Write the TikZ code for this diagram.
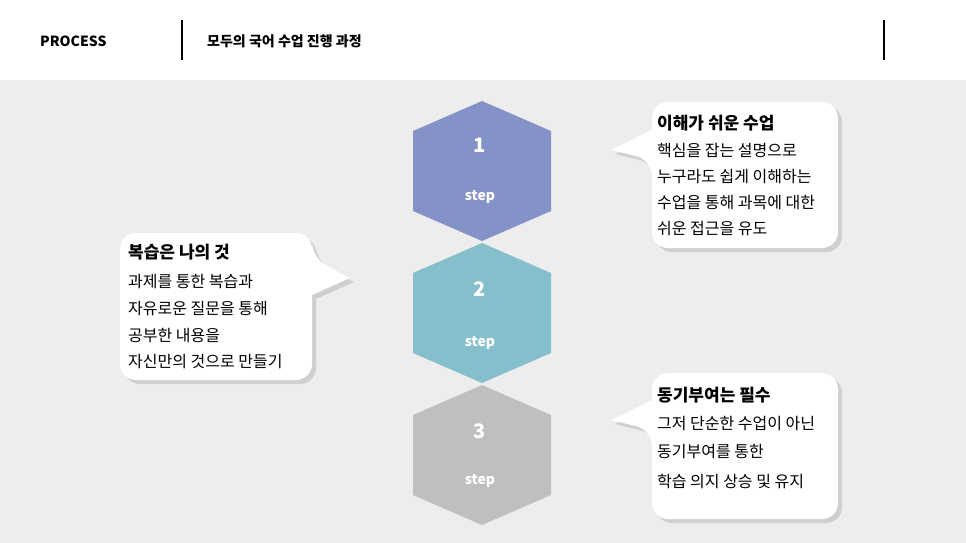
\documentclass[tikz,border=0pt]{standalone}
\usepackage{fontspec}
\setmainfont{Noto Sans CJK KR}
\newfontfamily\kb[BoldFont={* Bold}]{Noto Sans CJK KR}
\begin{document}
\begin{tikzpicture}[x=1pt,y=-1pt,
  ttl/.style={anchor=west,inner sep=0pt,font=\fontsize{17}{20}\selectfont\bfseries},
  body/.style={anchor=west,inner sep=0pt,font=\fontsize{16}{19}\selectfont},
  hexnum/.style={text=white,font=\fontsize{20}{24}\selectfont\bfseries},
  hexstep/.style={text=white,font=\fontsize{14}{17}\selectfont\bfseries},
  hdr/.style={anchor=west,inner sep=0pt,font=\fontsize{14}{17}\selectfont\bfseries}]
\definecolor{bg}{HTML}{EDEDED}
\definecolor{hA}{HTML}{8592C8}
\definecolor{hB}{HTML}{85BFCB}
\definecolor{hC}{HTML}{BFBFBF}
\definecolor{shd}{HTML}{CFCFCF}
\useasboundingbox (0,0) rectangle (966,543);
\fill[white] (0,0) rectangle (966,80);
\fill[bg] (0,80) rectangle (966,543);
\node[hdr] (h1) at (40,41) {PROCESS};
\node[hdr] (h2) at (207,41) {모두의 국어 수업 진행 과정};
\draw[line width=1.5pt] (182,20) -- (182,60);
\draw[line width=1.5pt] (884,20) -- (884,60);
% hexagons
\foreach \y/\c in {101/hA,243/hB,385/hC}{
  \fill[\c] (482,\y) -- (551,\y+30) -- (551,\y+110) -- (482,\y+140) -- (413,\y+110) -- (413,\y+30) -- cycle;}
\node[hexnum] (n1) at (480,145) {1};
\node[hexstep] (s1) at (480,197) {step};
\node[hexnum] (n2) at (480,289) {2};
\node[hexstep] (s2) at (480,343) {step};
\node[hexnum] (n3) at (480,431) {3};
\node[hexstep] (s3) at (480,481) {step};
% bubbles
\foreach \dx/\col in {4/shd,0/white}{
 \begin{scope}[shift={(\dx,\dx)}]
 \fill[\col,rounded corners=16pt] (652,102) -- (838,102) -- (838,248) -- (652,248) -- (652,160)[sharp corners] -- (611,150) -- (652,130)[rounded corners=16pt] -- cycle;
 \fill[\col,rounded corners=16pt] (120,233) -- (312,233) -- (312,258)[sharp corners] -- (350,278) -- (312,295)[rounded corners=16pt] -- (312,380) -- (120,380) -- cycle;
 \fill[\col,rounded corners=16pt] (652,373) -- (838,373) -- (838,519) -- (652,519) -- (652,430)[sharp corners] -- (611,420) -- (652,400)[rounded corners=16pt] -- cycle;
 \end{scope}}
\node[ttl] (t1) at (657,123) {이해가 쉬운 수업};
\node[body] (a1) at (657,151) {핵심을 잡는 설명으로};
\node[body] (a2) at (657,177) {누구라도 쉽게 이해하는};
\node[body] (a3) at (657,203) {수업을 통해 과목에 대한};
\node[body] (a4) at (657,229) {쉬운 접근을 유도};
\node[ttl] (t2) at (128,252) {복습은 나의 것};
\node[body] (b1) at (128,282) {과제를 통한 복습과};
\node[body] (b2) at (128,309) {자유로운 질문을 통해};
\node[body] (b3) at (128,336) {공부한 내용을};
\node[body] (b4) at (128,362) {자신만의 것으로 만들기};
\node[ttl] (t3) at (657,395) {동기부여는 필수};
\node[body] (c1) at (657,424) {그저 단순한 수업이 아닌};
\node[body] (c2) at (657,452) {동기부여를 통한};
\node[body] (c3) at (657,481) {학습 의지 상승 및 유지};
\end{tikzpicture}
\end{document}
